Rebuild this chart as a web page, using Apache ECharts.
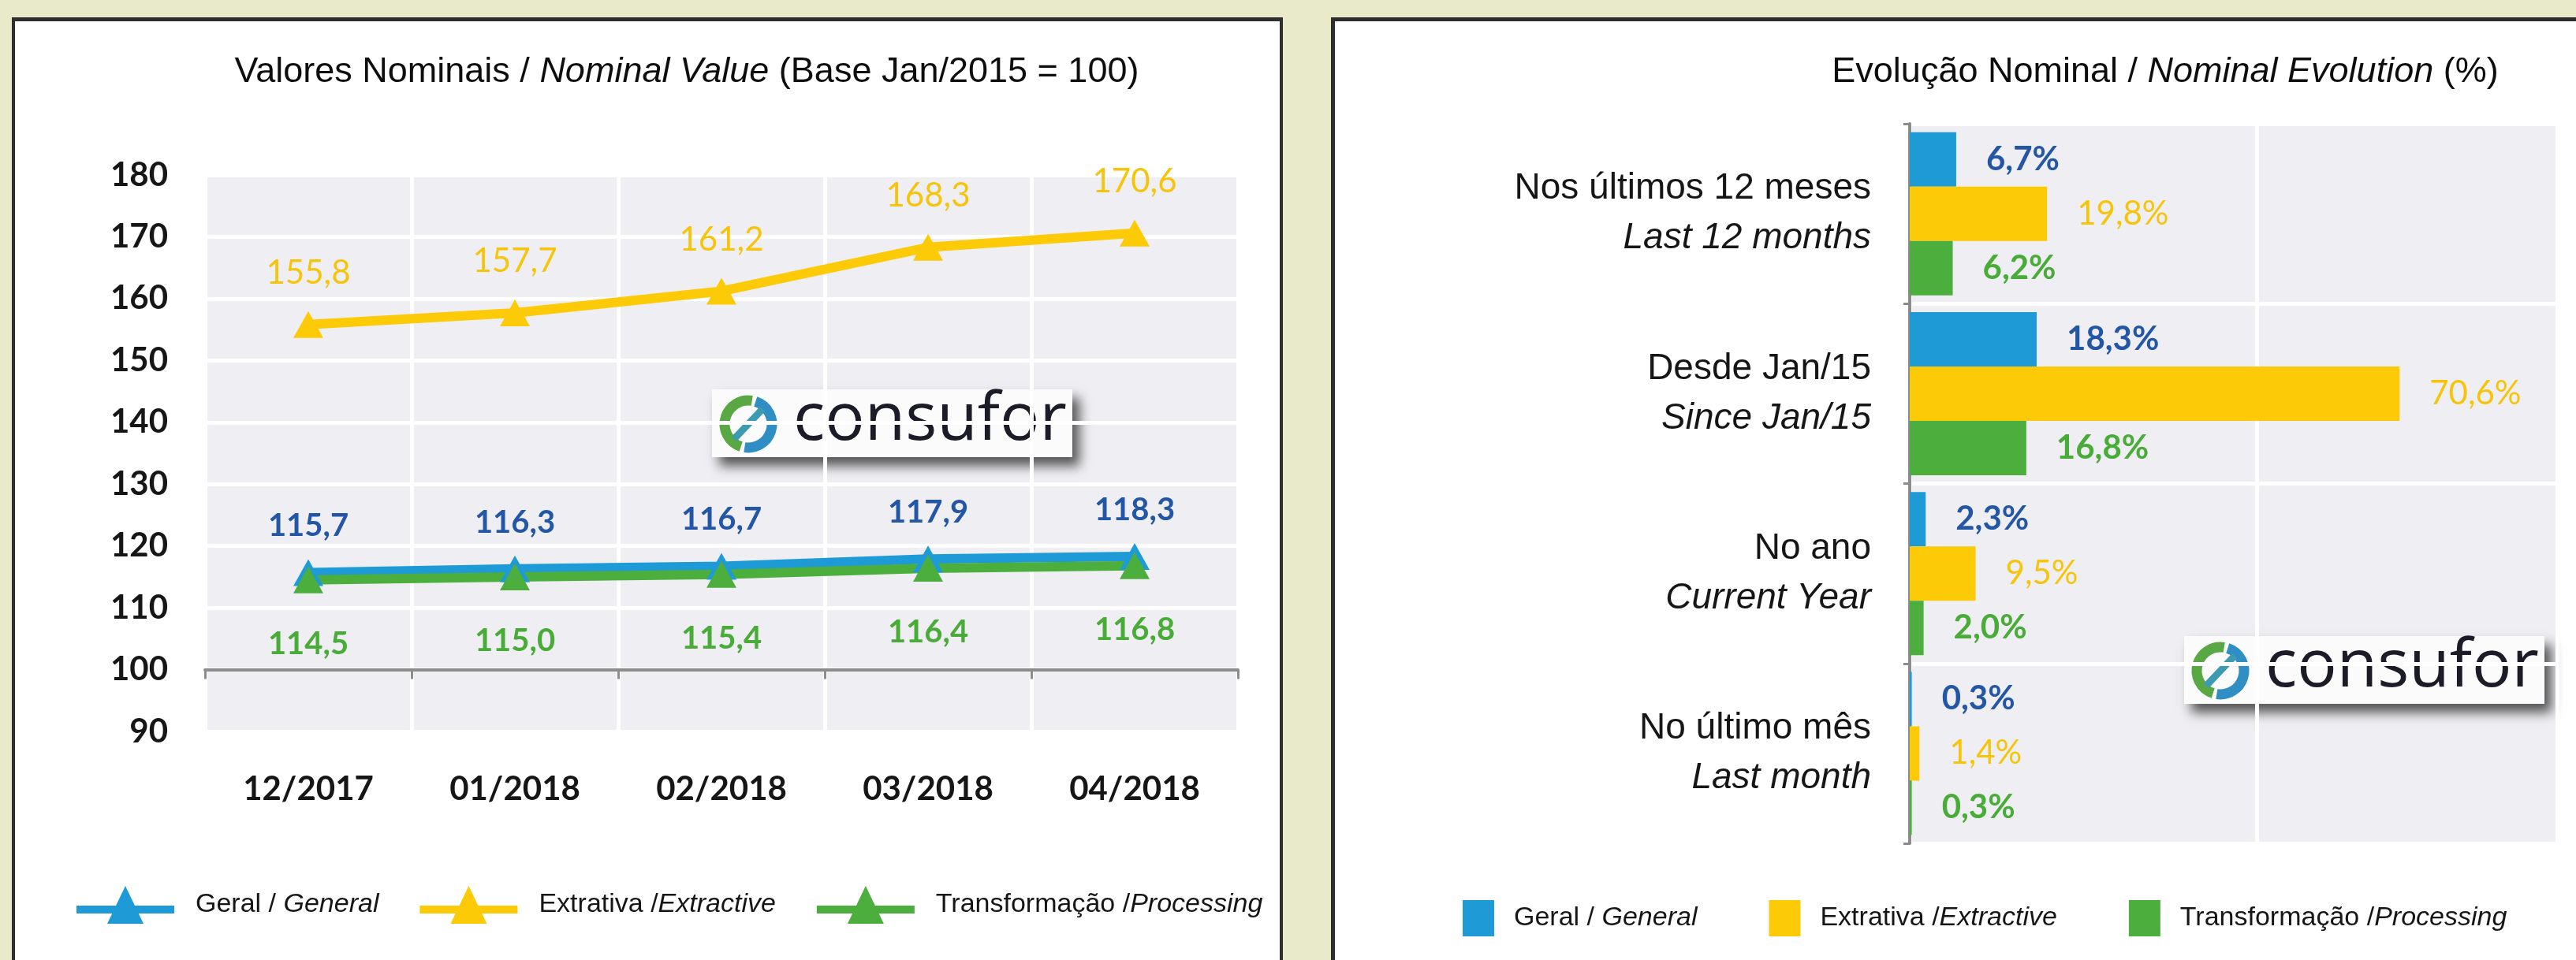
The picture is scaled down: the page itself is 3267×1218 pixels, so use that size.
<!DOCTYPE html>
<html><head><meta charset="utf-8">
<script src="https://cdn.jsdelivr.net/npm/echarts@6/dist/echarts.min.js"></script>
<style>
html,body{margin:0;padding:0;background:#e8eac9;width:3267px;height:1218px;overflow:hidden;position:relative;}
.panel{position:absolute;background:#fff;box-sizing:border-box;border:0 solid #2e2e2e;}
#pl{left:15px;top:22px;width:1612px;height:1300px;border-top-width:5px;border-left-width:4px;border-right-width:4px;}
#pr{left:1688px;top:22px;width:1700px;height:1300px;border-top-width:5px;border-left-width:5px;}
.ch{position:absolute;left:0;top:0;width:3267px;height:1218px;}
</style>
</head><body>
<div class="panel" id="pl"></div><div class="panel" id="pr"></div>
<div class="ch" id="cl"></div><div class="ch" id="cr"></div>
<script>
// ---------- data ----------
const months = ['12/2017', '01/2018', '02/2018', '03/2018', '04/2018'];
const geralIdx = [115.7, 116.3, 116.7, 117.9, 118.3];
const extrativaIdx = [155.8, 157.7, 161.2, 168.3, 170.6];
const transfIdx = [114.5, 115.0, 115.4, 116.4, 116.8];
const idxMin = 90, idxMax = 180, idxStep = 10, idxBase = 100;

const periodsPt = ['Nos últimos 12 meses', 'Desde Jan/15', 'No ano', 'No último mês'];
const periodsEn = ['Last 12 months', 'Since Jan/15', 'Current Year', 'Last month'];
const geralPct = [6.7, 18.3, 2.3, 0.3];
const extrativaPct = [19.8, 70.6, 9.5, 1.4];
const transfPct = [6.2, 16.8, 2.0, 0.3];

const seriesNames = ['Geral / General', 'Extrativa /Extractive', 'Transformação /Processing'];
const titleLeft = ['Valores Nominais / ', 'Nominal Value', ' (Base Jan/2015 = 100)'];
const titleRight = ['Evolução Nominal / ', 'Nominal Evolution', ' (%)'];
const logoText = 'consufor';

// ---------- style ----------
const C_BLUE = '#1e9bd7', C_YEL = '#fdca08', C_GRN = '#4cae3c';
const L_BLUE = '#2456a6', L_YEL = '#f6c40a', L_GRN = '#49ab38';
const INK = '#161616', AXIS = '#8c8c8c';
const NUM = 'Lato, "Open Sans", sans-serif';
const SANS = '"Liberation Sans", Arial, sans-serif';
const fmt = v => v.toFixed(1).replace('.', ',');

function legendFormatter(name) {
  const k = name.indexOf('/');
  return '{n|' + name.slice(0, k + 1) + '}{i|' + name.slice(k + 1) + '}';
}
function legendText(pad) {
  return {
    color: INK,
    rich: {
      n: {fontFamily: SANS, fontSize: 34, color: INK, padding: [0, 0, 0, pad]},
      i: {fontFamily: SANS, fontSize: 34, color: INK, fontStyle: 'italic'}
    }
  };
}
const titleRich = {
  n: {fontFamily: SANS, fontSize: 45, color: '#0e0e0e', fontWeight: 'normal'},
  i: {fontFamily: SANS, fontSize: 45, color: '#0e0e0e', fontWeight: 'normal', fontStyle: 'italic'}
};
// legend glyph: thick line with a triangle
const lineTriIcon = 'path://M0,25L124,25L124,35L0,35Z M62,0L85,48L39,48Z';

function logo(x, y) {
  return {
    type: 'group', x: x, y: y, silent: true,
    children: [
      {type: 'rect', shape: {x: 0, y: 0, width: 457, height: 86},
       style: {fill: '#fbfbfb', shadowBlur: 14, shadowColor: 'rgba(0,0,0,0.65)', shadowOffsetX: 9, shadowOffsetY: 11}},
      {type: 'arc', shape: {cx: 46, cy: 44, r: 30, startAngle: Math.PI * 0.6, endAngle: Math.PI * 1.55},
       style: {stroke: '#5aa844', lineWidth: 13, fill: null}},
      {type: 'arc', shape: {cx: 46, cy: 44, r: 30, startAngle: Math.PI * 1.6, endAngle: Math.PI * 2.55},
       style: {stroke: '#2f8fc4', lineWidth: 13, fill: null}},
      {type: 'line', shape: {x1: 28, y1: 63, x2: 64, y2: 25}, style: {stroke: '#3c9bb0', lineWidth: 9}},
      {type: 'text', x: 103, y: 40,
       style: {text: logoText, fontFamily: '"Open Sans", sans-serif', fontSize: 84, fill: '#1c1c28', verticalAlign: 'middle'}}
    ]
  };
}

// ---------- left chart ----------
const gridL = {left: 260, top: 222, width: 1310, height: 706};
// the category axis crosses the value axis at the base index (100)
const baseOffset = -(idxBase - idxMin) / (idxMax - idxMin) * gridL.height;
const left = echarts.init(document.getElementById('cl'), null, {renderer: 'canvas'});
left.setOption({
  animation: false,
  backgroundColor: 'transparent',
  title: {
    text: '{n|' + titleLeft[0] + '}{i|' + titleLeft[1] + '}{n|' + titleLeft[2] + '}',
    left: 866, top: 64, textAlign: 'center', textStyle: {fontWeight: 'normal', rich: titleRich}
  },
  legend: {
    data: seriesNames, left: 92, top: 1119, icon: lineTriIcon, itemWidth: 124, itemHeight: 48, itemGap: 52,
    formatter: legendFormatter, textStyle: legendText(22)
  },
  grid: Object.assign({show: true, backgroundColor: '#efeff3', borderWidth: 0}, gridL),
  xAxis: {
    type: 'category', data: months, boundaryGap: true, position: 'bottom', offset: baseOffset,
    axisLine: {show: true, onZero: false, lineStyle: {color: AXIS, width: 4}},
    axisTick: {show: true, length: 12, lineStyle: {color: AXIS, width: 3}},
    splitLine: {show: true, lineStyle: {color: '#ffffff', width: 5}},
    axisLabel: {margin: 52 - baseOffset, fontFamily: NUM, fontWeight: 'bold', fontSize: 42, color: INK}
  },
  yAxis: {
    type: 'value', min: idxMin, max: idxMax, interval: idxStep,
    axisLine: {show: false}, axisTick: {show: false},
    splitLine: {lineStyle: {color: '#ffffff', width: 5}},
    axisLabel: {margin: 47, fontFamily: NUM, fontWeight: 'bold', fontSize: 42, color: INK}
  },
  series: [
    {name: seriesNames[0], type: 'line', data: geralIdx, symbol: 'triangle', symbolSize: [38, 34],
     lineStyle: {width: 12, color: C_BLUE}, itemStyle: {color: C_BLUE},
     label: {show: true, position: 'top', distance: 22, formatter: p => fmt(p.value),
             fontFamily: NUM, fontWeight: 'bold', fontSize: 40, color: L_BLUE}},
    {name: seriesNames[1], type: 'line', data: extrativaIdx, symbol: 'triangle', symbolSize: [38, 34],
     lineStyle: {width: 12, color: C_YEL}, itemStyle: {color: C_YEL},
     label: {show: true, position: 'top', distance: 27, formatter: p => fmt(p.value),
             fontFamily: NUM, fontSize: 42, color: L_YEL}},
    {name: seriesNames[2], type: 'line', data: transfIdx, symbol: 'triangle', symbolSize: [38, 34],
     lineStyle: {width: 12, color: C_GRN}, itemStyle: {color: C_GRN},
     label: {show: true, position: 'bottom', distance: 44, formatter: p => fmt(p.value),
             fontFamily: NUM, fontWeight: 'bold', fontSize: 40, color: L_GRN}}
  ],
  graphic: [logo(903, 494)]
});

// ---------- right chart ----------
const right = echarts.init(document.getElementById('cr'), null, {renderer: 'canvas'});
const barLabel = (color, weight) => ({show: true, position: 'right', distance: 38, formatter: p => fmt(p.value) + '%',
                            fontFamily: NUM, fontSize: 42, fontWeight: weight, color: color});
right.setOption({
  animation: false,
  backgroundColor: 'transparent',
  title: {
    text: '{n|' + titleRight[0] + '}{i|' + titleRight[1] + '}{n|' + titleRight[2] + '}',
    left: 2741, top: 64, textAlign: 'center', textStyle: {fontWeight: 'normal', rich: titleRich}
  },
  legend: {
    data: seriesNames, left: 1850, top: 1137, icon: 'rect', itemWidth: 40, itemHeight: 46, itemGap: 91,
    formatter: legendFormatter, textStyle: legendText(20)
  },
  grid: {left: 2422, top: 157, width: 821, height: 913, show: true, backgroundColor: '#efeff3', borderWidth: 0},
  xAxis: {
    type: 'value', min: 0, max: 93.3, interval: 50,
    axisLabel: {show: false}, axisLine: {show: false}, axisTick: {show: false},
    splitLine: {lineStyle: {color: '#ffffff', width: 5}}
  },
  yAxis: {
    type: 'category', data: periodsPt, inverse: true,
    axisLine: {show: true, lineStyle: {color: AXIS, width: 4}},
    axisTick: {show: true, length: 8, lineStyle: {color: AXIS, width: 3}},
    splitLine: {show: true, lineStyle: {color: '#ffffff', width: 5}},
    axisLabel: {
      margin: 49,
      formatter: (v, i) => '{a|' + v + '}\n{b|' + periodsEn[i] + '}',
      rich: {
        a: {fontFamily: SANS, fontSize: 46, color: INK, lineHeight: 63, align: 'right'},
        b: {fontFamily: SANS, fontSize: 46, color: INK, lineHeight: 63, align: 'right', fontStyle: 'italic'}
      }
    }
  },
  series: [
    {name: seriesNames[0], type: 'bar', data: geralPct, barWidth: 69, barGap: '0%', itemStyle: {color: C_BLUE},
     label: barLabel(L_BLUE, 'bold')},
    {name: seriesNames[1], type: 'bar', data: extrativaPct, barWidth: 69, barGap: '0%', itemStyle: {color: C_YEL},
     label: barLabel(L_YEL, 'normal')},
    {name: seriesNames[2], type: 'bar', data: transfPct, barWidth: 69, barGap: '0%', itemStyle: {color: C_GRN},
     label: barLabel(L_GRN, 'bold')}
  ],
  graphic: [logo(2770, 807)]
});
</script>
</body></html>
